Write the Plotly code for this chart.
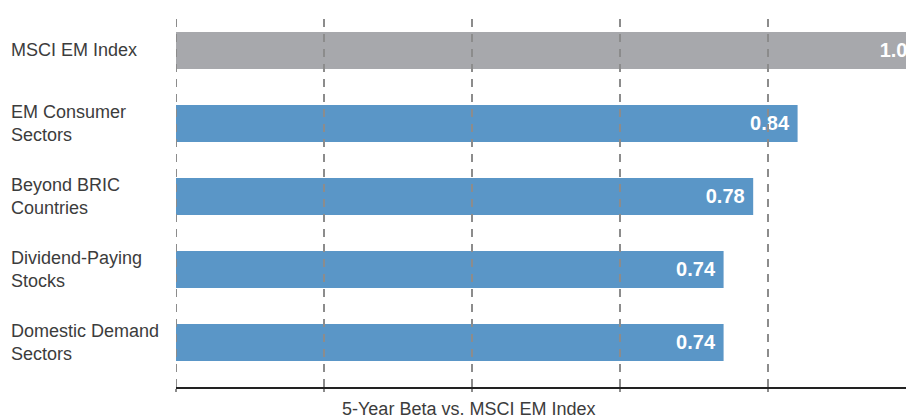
import plotly.graph_objects as go

categories = ["MSCI EM Index", "EM Consumer<br>Sectors", "Beyond BRIC<br>Countries",
              "Dividend-Paying<br>Stocks", "Domestic Demand<br>Sectors"]
values = [1.0, 0.84, 0.78, 0.74, 0.74]
value_labels = ["1.0", "0.84", "0.78", "0.74", "0.74"]
bar_colors = ["#A7A8AC", "#5A96C7", "#5A96C7", "#5A96C7", "#5A96C7"]
grid_vals = [0, 0.2, 0.4, 0.6, 0.8]
x_title = "5-Year Beta vs. MSCI EM Index"

FONT = "Liberation Sans"
idx = list(range(len(categories)))

fig = go.Figure()
fig.add_trace(go.Bar(
    x=values, y=idx, orientation="h",
    marker=dict(color=bar_colors, line=dict(width=0)),
    text=[t + "\u00a0" for t in value_labels],
    textposition="inside", insidetextanchor="end",
    textfont=dict(family=FONT, size=20, color="white", weight="bold"),
    cliponaxis=True, hoverinfo="skip",
))

shapes = [dict(type="line", xref="x", yref="paper", x0=g, x1=g, y0=0, y1=1,
               layer="above", line=dict(color="#8C8C8C", width=2, dash="8px,7px"))
          for g in grid_vals]

annotations = [dict(xref="paper", yref="y", x=0, y=i, xshift=-167, xanchor="left",
                    yanchor="middle", align="left", showarrow=False, text=c,
                    font=dict(family=FONT, size=18, color="#3C3C3C"))
               for i, c in zip(idx, categories)]
annotations.append(dict(xref="paper", yref="paper", x=0.401, y=0, yshift=-22,
                        xanchor="center", yanchor="middle", showarrow=False,
                        text=x_title, font=dict(family=FONT, size=18, color="#3C3C3C")))

fig.update_layout(
    width=906, height=419,
    margin=dict(l=176, r=0, t=12, b=32),
    paper_bgcolor="white", plot_bgcolor="white",
    bargap=0.493, showlegend=False,
    shapes=shapes, annotations=annotations,
    xaxis=dict(range=[0, 0.9865], showgrid=False, zeroline=False,
               tickvals=grid_vals, showticklabels=False,
               ticks="outside", ticklen=3, tickwidth=2, tickcolor="#8C8C8C",
               showline=True, linecolor="#222222", linewidth=1.5, fixedrange=True),
    yaxis=dict(range=[4.61, -0.527], showgrid=False, zeroline=False,
               showticklabels=False, ticks="", showline=False, fixedrange=True),
)

fig.write_html("out.html")
